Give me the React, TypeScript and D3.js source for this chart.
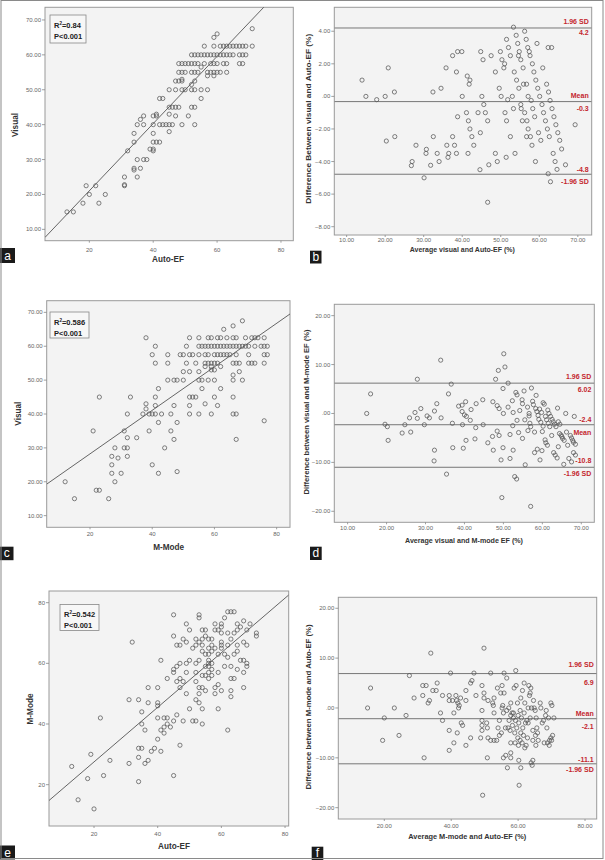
import React, { useEffect } from 'react';
import * as d3 from 'd3';

type Pt = [number, number];

// ---------- Panel a: Visual (y) vs Auto-EF (x), rows of [visual, auto-EF values]
const aRows: [number, number[]][] = [
  [67.5, [71]], [66, [60]], [65, [59]],
  [62.5, [56, 59, 61, 62, 63, 64, 65, 66, 67, 68, 69, 71]],
  [60, [52, 53, 54, 55, 56, 57, 58, 59, 60, 61, 62, 63, 64, 65, 67, 68, 69]],
  [57.5, [48, 49, 50, 51, 52, 53, 54, 56, 58, 59, 60, 62, 63, 67, 68]],
  [56.5, [55]],
  [55, [48, 49, 50, 52, 53, 54, 57, 58, 59, 60, 61, 63]],
  [54, [57, 59]], [53, [49]],
  [52.5, [47, 48, 49, 53]], [51.5, [52]],
  [50, [45, 47, 49, 50, 52, 53, 55, 57]],
  [47.5, [42, 43, 55]],
  [45, [45, 46, 47, 48, 52, 53]],
  [43, [41, 45]],
  [42.5, [37, 40, 41, 47, 51]], [41.5, [36]],
  [40, [35, 37, 40, 42, 43, 44, 45, 46, 49, 53]],
  [38, [45]], [37.5, [34, 40]],
  [35, [34, 40, 41, 42]],
  [33, [39, 40]], [32.5, [32, 40]],
  [30, [35, 37, 38]],
  [27.5, [34, 36]], [27, [34]],
  [25, [31, 35]],
  [22.8, [31]], [22.5, [19, 22, 31]],
  [20, [20, 25]], [17.5, [18, 23]], [15, [13, 15]],
];
const aFit = { slope: 0.963, intercept: 1.8 };

// ---------- Panel b: Bland-Altman visual vs Auto-EF
const bPoints: Pt[] = [
  [14.0, 1.0], [15.0, 0.0], [17.8, -0.2], [20.0, 0], [20.8, 1.75], [22.4, 0.27], [20.3, -2.74], [22.5, -2.47],
  [28.0, -3.0], [27.0, -4.0], [26.8, -4.25], [30.7, -3.25], [30.6, -3.5], [30.1, -5.0], [31.8, -4.23], [32.4, 0.27],
  [32.5, -2.47], [33.5, -3.5], [34.0, -4.0], [34.5, 0.5], [35.8, 1.75], [36.0, -3.0], [36.5, -3.5], [36.3, -3.74],
  [37.5, -2.47], [37.5, 2.5], [38.0, -3.0], [38.5, -3.5], [38.8, 2.75], [39.9, 2.75], [38.5, 1.5], [38.8, -1.25],
  [40.0, 0], [41.3, 1.25], [41.8, 0.75], [42.0, 1.0], [41.5, -3.5], [41.1, -1.0], [41.6, -1.5], [42.0, -2.0],
  [42.5, -2.47], [43.0, -3.0], [44.1, -1.0], [44.8, 2.75], [45.4, 2.25], [45.1, 0], [45.6, -0.5], [46.0, -1.0],
  [46.6, -1.5], [44.7, -2.23], [44.6, -4.5], [46.9, -4.2], [46.6, -6.5], [47.5, 2.5], [48.6, 1.5], [48.6, -3.5],
  [49.1, -4.0], [49.6, 0.5], [49.9, 2.75], [50.1, 0], [50.3, 2.25], [50.8, 1.75], [51.0, 2.0], [51.1, -1.0],
  [51.5, -1.5], [51.4, -3.74], [51.5, 3.5], [51.8, -0.2], [52.0, 3.0], [52.5, 2.5], [52.5, -2.47], [53.0, 0],
  [53.3, 4.25], [53.3, -0.75], [53.5, 1.5], [53.7, -3.5], [54.0, 3.75], [54.1, 1.0], [54.4, 3.25], [54.7, 0.5],
  [54.8, 2.75], [54.6, 2.5], [55.2, 2.25], [55.2, -0.5], [55.3, -0.75], [55.6, -1.5], [55.8, 1.75], [55.9, 0.75],
  [56.2, -1.0], [56.2, 4.0], [56.6, 3.5], [56.7, 0.75], [56.8, -1.5], [56.7, -2.47], [57.0, 3.0], [57.1, 0],
  [57.1, -2.0], [57.4, 2.75], [57.6, 2.5], [57.7, -2.47], [57.9, -0.25], [58.1, -3.0], [58.2, 2.0], [58.3, -0.75],
  [58.6, 1.5], [58.8, -1.25], [59.1, 1.0], [59.0, -4.0], [59.4, 3.25], [59.6, 0.5], [59.8, -2.23], [60.1, 0],
  [60.4, -2.7], [60.7, -0.5], [60.9, 1.75], [61.1, -1.0], [61.6, -1.5], [61.9, 0.75], [62.1, -2.0], [62.3, 3.0],
  [62.4, 0.27], [62.6, -2.47], [62.3, -4.75], [62.8, -0.25], [62.9, -5.24], [63.2, 3.0], [63.3, -0.75], [63.6, -3.5],
  [63.8, -1.25], [64.1, -4.0], [64.3, -1.74], [64.6, -4.48], [64.8, -2.23], [65.3, -2.7], [65.8, -3.23], [66.8, -4.2],
  [69.3, -1.74],
];
const bLimits = [4.2, -0.32, -4.78];
const bLabels: [string, string][] = [['1.96 SD', '4.2'], ['Mean', '-0.3'], ['-4.8', '-1.96 SD']];

// ---------- Panel c: Visual (y) vs M-Mode (x), rows of [visual, M-mode values]
const cRows: [number, number[]][] = [
  [67.5, [69]], [66, [66]], [65, [63]],
  [62.5, [38, 52, 55, 58, 59, 61, 62, 64, 66, 67, 70, 72, 73, 74, 76]],
  [60, [41, 51, 55, 56, 57, 58, 59, 60, 61, 62, 63, 64, 65, 66, 67, 68, 69, 70, 71, 73, 75, 76, 77]],
  [57.5, [40, 45, 49, 50, 52, 53, 55, 57, 58, 60, 61, 62, 63, 64, 65, 67, 71, 76, 77]],
  [55, [41, 45, 51, 54, 57, 58, 59, 60, 61, 66, 67, 68, 71, 72, 73, 76]],
  [54, [57, 59, 62]], [53, [59, 60]],
  [52.5, [50, 52, 55, 68]], [51.5, [66]],
  [50, [45, 47, 48, 50, 55, 56, 58, 60, 66, 69]],
  [47.5, [42, 56, 62]],
  [45, [23, 33, 41, 52, 53, 54, 60, 66]],
  [43, [38, 57]], [42.5, [41, 47, 52, 61]], [41.5, [38]],
  [40, [32, 37, 39, 40, 41, 43, 46, 52, 55, 59, 66, 67]],
  [38, [76]], [37.5, [42, 48]],
  [35, [21, 31, 39, 46]], [33, [32, 35]], [32.5, [47, 67]],
  [30, [28, 31, 32, 44]], [27.5, [27, 32]], [27, [29]],
  [25, [27, 40]], [23, [48]], [22.5, [27, 30, 42]],
  [20, [12, 28]], [17.5, [22, 23]], [15, [15, 26]],
];
const cFit = { slope: 0.642, intercept: 15.4 };

// ---------- Panel d: Bland-Altman visual vs M-mode
const dPoints: Pt[] = [
  [14.9, 0], [15.9, 4.0], [19.6, -2.2], [20.2, -2.7], [20.4, -5.5], [24.0, -4.0], [24.7, -2.3], [26.2, -3.8],
  [25.9, -0.9], [27.3, 0.2], [27.9, 7.0], [27.9, -1.0], [28.8, 1.0], [29.7, -2.3], [30.4, -0.5], [31.0, -0.9],
  [32.3, 0.5], [32.3, -7.5], [32.2, -9.7], [32.9, 2.0], [33.9, 10.9], [34.0, -0.9], [35.4, -12.4], [35.9, 4.0],
  [36.9, -2.0], [37.0, -7.0], [36.6, 6.0], [38.5, 1.5], [39.4, 1.7], [39.5, -2.3], [39.7, -7.1], [39.4, 0.4],
  [40.0, -0.3], [40.5, -0.6], [40.3, 2.4], [41.5, -1.4], [41.7, 0.8], [40.4, -5.5], [43.0, 2.0], [42.9, -2.9],
  [42.7, -5.2], [44.7, 2.8], [44.8, -2.3], [46.0, -6.0], [47.3, 2.4], [47.2, -4.7], [47.4, -7.5], [48.0, 7.0],
  [48.4, 1.6], [48.7, 8.8], [48.9, 1.0], [48.4, -3.6], [48.9, -4.5], [49.4, -9.5], [50.0, 0], [49.9, 5.1],
  [50.1, 12.2], [50.4, 9.5], [49.9, -7.0], [49.6, -17.2], [51.2, 1.3], [51.2, 6.2], [51.7, -4.3], [51.7, -9.2],
  [52.3, 2.6], [52.5, 0.2], [52.4, -2.5], [52.5, -7.5], [52.9, -12.9], [53.4, -13.4], [53.2, 4.3], [53.5, 3.8],
  [53.5, -1.4], [53.9, -3.9], [54.2, 0.6], [54.8, 2.8], [54.9, 2.0], [54.9, -5.1], [55.3, 4.6], [55.6, -10.5],
  [55.5, -1.3], [56.2, 1.3], [56.3, -3.5], [56.6, 0], [56.8, -2.0], [56.6, -0.5], [57.0, -2.7], [57.2, 5.2],
  [57.0, -19.0], [57.5, 2.5], [57.7, 1.8], [58.0, -8.0], [58.0, -3.8], [58.3, 1.0], [58.4, 3.7], [58.6, 0.4],
  [58.7, -7.3], [58.9, -0.4], [59.1, -1.2], [59.3, 0.9], [59.4, -9.5], [59.6, -1.8], [59.8, 0.2], [59.9, -7.6],
  [60.0, -3.7], [60.2, 2.2], [60.2, -2.6], [60.5, 1.9], [60.7, -5.4], [60.8, -0.6], [60.9, -6.0], [61.1, -1.3],
  [61.3, -6.5], [61.4, 0.7], [61.5, -2.0], [61.7, 0], [61.9, -2.7], [62.1, -0.6], [62.4, -4.5], [62.5, -1.2],
  [62.8, -1.7], [62.9, -8.0], [63.1, -2.2], [63.3, -8.5], [63.5, -2.7], [63.8, -9.1], [63.9, 1.1], [64.1, -6.8],
  [64.1, -1.7], [64.4, -4.1], [64.5, -2.2], [64.8, -4.4], [65.0, -4.7], [65.2, -5.1], [65.5, -10.4], [65.6, -5.5],
  [66.0, 0], [66.2, -3.8], [66.5, -6.5], [66.8, -9.2], [67.2, -4.5], [67.5, -5.0], [67.8, -5.5], [68.0, -5.9],
  [68.2, -0.6], [68.5, -6.3], [67.5, -9.9], [68.0, -8.0], [68.5, -8.5],
];
const dLimits = [6.2, -2.3, -11.0];
const dLabels: [string, string][] = [['1.96 SD', '6.02'], ['-2.4', 'Mean'], ['-10.8', '-1.96 SD']];

// ---------- Panel e: M-Mode (y) vs Auto-EF (x), rows of [auto-EF, M-mode values]
const eRows: [number, number[]][] = [
  [13, [26]], [15, [15]], [18, [22]], [19, [30]], [20, [12]], [22, [42]], [23, [23]], [25, [28]],
  [31, [27, 48]], [32, [67]], [34, [48, 32, 29, 21]], [35, [32, 44, 40]], [36, [38, 27]], [37, [28, 47, 52]],
  [38, [31]], [39, [32]], [40, [47, 46, 42, 35, 52]], [41, [31, 61, 38]], [42, [42, 39, 37]], [43, [42, 55, 40]],
  [44, [39]], [45, [23, 41, 57, 58, 69, 76]], [46, [43, 59, 66, 54]], [47, [33, 66, 60, 55, 52]], [48, [41, 54, 68]],
  [49, [50, 60, 57, 73, 67]], [50, [45, 71, 61]], [51, [41, 65]], [52, [48, 41, 57, 60, 68, 66, 54]],
  [53, [50, 47, 76, 75, 67, 61, 52]], [54, [40, 45, 71, 68, 66, 64, 56, 52]], [55, [71, 69, 63, 59, 56, 51]],
  [56, [68, 63, 61, 60, 59, 57, 55, 65]], [57, [66, 64, 60, 58, 56, 68]], [58, [50, 73, 71, 65, 52]],
  [59, [45, 71, 53, 63, 57]], [60, [73, 72, 70, 67, 66, 65, 51]], [61, [75, 63, 59]], [62, [77, 70, 62, 38, 66]],
  [63, [77, 59, 55, 51, 49, 68]], [64, [77, 55, 63, 70]], [65, [71, 73, 66, 64, 58]], [66, [72, 61]],
  [67, [52, 57, 61, 67, 74]], [68, [60, 59, 66, 71]], [69, [73]], [71, [70, 69]],
];
const eFit = { slope: 0.9, intercept: 9.5 };

// ---------- Panel f: Bland-Altman M-mode vs Auto-EF
const fPoints: Pt[] = [
  [15.0, 0], [15.9, 4.0], [20.0, -2.0], [19.5, -6.5], [23.0, 0], [24.4, -5.5], [26.5, -1.5], [27.5, 6.5],
  [28.9, 2.0], [31.5, 2.5], [31.5, 4.5], [32.5, 4.5], [31.9, -10.0], [33.1, 1.0], [33.5, 1.5], [33.9, 11.0],
  [34.5, 3.5], [35.5, 3.5], [35.8, 5.0], [36.8, -1.0], [37.4, -2.5], [37.4, 2.5], [39.4, 1.5], [39.4, 2.5],
  [39.4, -4.5], [39.4, -8.5], [39.8, 7.0], [40.4, 1.5], [40.8, -1.0], [40.8, -7.0], [41.4, 2.5], [41.6, 1.5],
  [41.8, -5.0], [42.0, 1.0], [42.2, 0], [42.4, 0.5], [42.8, 2.0], [43.0, -3.0], [43.4, -3.5], [44.4, 3.5],
  [44.4, 1.5], [44.4, -7.5], [45.8, 5.0], [45.8, -6.0], [46.2, 5.5], [46.8, 7.0], [47.4, 2.5], [48.8, -6.0],
  [49.2, 4.5], [49.2, -0.5], [49.2, -2.5], [49.2, -3.5], [49.2, -4.5], [49.8, 12.0], [49.8, 3.0], [49.8, 2.0],
  [49.4, -17.5], [50.6, -3.0], [50.8, -4.0], [51.0, 1.5], [51.0, -6.0], [50.8, -10.0], [51.8, 7.0], [51.8, -6.5],
  [52.4, 1.0], [52.6, 0.5], [52.8, 2.0], [52.8, -1.0], [52.8, -6.5], [53.6, -6.5], [53.8, 4.0], [54.0, -4.0],
  [54.4, -2.5], [54.4, -5.5], [54.8, 3.0], [55.0, -5.0], [55.2, 4.5], [55.2, 0], [55.4, 0.5], [55.6, -1.0],
  [55.6, -10.0], [55.8, 3.0], [55.8, 7.0], [56.2, -4.0], [56.3, -9.5], [56.6, -0.5], [56.6, 6.0], [56.8, -12.0],
  [57.0, -4.0], [57.2, 0], [57.3, -2.5], [57.6, -4.5], [57.8, -1.5], [57.8, 1.0], [57.8, -10.0], [57.8, -7.0],
  [57.8, -9.0], [58.2, -1.0], [58.3, -3.5], [58.6, -2.0], [58.6, -1.0], [58.8, 4.0], [59.0, -5.0], [59.1, -7.0],
  [59.2, -2.5], [59.3, 7.5], [59.4, 4.5], [59.6, -4.0], [59.8, 1.0], [59.9, -6.0], [60.0, -1.5], [60.1, -7.5],
  [60.2, -3.0], [60.2, -10.5], [60.3, -15.5], [60.6, -0.5], [60.6, -6.5], [60.8, 2.0], [60.8, -5.0], [60.8, -12.0],
  [61.0, -2.0], [61.2, -7.0], [61.3, 3.5], [61.4, -4.0], [61.6, -5.5], [61.8, -1.0], [61.8, 5.0], [62.0, 1.0],
  [62.0, -8.0], [62.2, -3.0], [62.4, -7.5], [62.6, -2.5], [62.8, -6.0], [63.0, 0], [63.0, -3.0], [63.2, 4.5],
  [63.4, 2.5], [63.6, 3.0], [63.6, -2.0], [63.8, 4.0], [63.9, -11.0], [64.0, 0], [64.2, -11.5], [64.4, -10.5],
  [64.4, -4.5], [64.4, -6.5], [64.6, 1.5], [64.8, 0], [65.1, -0.5], [65.2, -5.5], [65.3, -7.5], [65.4, -2.0],
  [65.6, -4.0], [65.8, -5.0], [66.0, -6.5], [66.6, 1.0], [66.8, 0], [67.2, -3.0], [67.6, -2.5], [67.8, -7.0],
  [68.2, -1.5], [68.4, -0.5], [68.6, -4.0], [68.8, -7.0], [69.1, -2.0], [69.3, -7.5], [69.4, -6.5], [69.8, 1.0],
  [69.8, -6.0], [70.0, -6.5], [70.1, 0.5], [70.3, -5.5], [70.7, -2.0],
];
const fLimits = [6.9, -2.15, -11.2];
const fLabels: [string, string][] = [['1.96 SD', '6.9'], ['Mean', '-2.1'], ['-11.1', '-1.96 SD']];

// tick values
const ticks10to70 = [10, 20, 30, 40, 50, 60, 70];
const ticks20to80 = [20, 40, 60, 80];
const ticksB_Y = [4, 2, 0, -2, -4, -6, -8];
const ticksDiff20 = [20, 10, 0, -10, -20];
const ticksE_Y = [20, 40, 60, 80];

const rowsToPointsYX = (rows: [number, number[]][]): Pt[] => rows.flatMap(([yv, xs]) => xs.map((xv) => [xv, yv] as Pt));
const rowsToPointsXY = (rows: [number, number[]][]): Pt[] => rows.flatMap(([xv, ys]) => ys.map((yv) => [xv, yv] as Pt));

const f2 = (v: number) => d3.format('.2f')(v).replace(/^(-?)0\./, '$1.');
const fInt = (v: number) => d3.format('d')(v);

const FONT = '"Liberation Sans", Arial, sans-serif';
const RED = '#c4262e';

type Frame = { x0: number; x1: number; y0: number; y1: number };
type PanelCfg = {
  id: string;
  frame: Frame;
  xDomain: [number, number];
  yDomain: [number, number];
  xTicks: number[];
  yTicks: number[];
  xFmt: (v: number) => string;
  yFmt: (v: number) => string;
  xLabelDy: number;
  points: Pt[];
  fit?: { slope: number; intercept: number };
  stats?: { lines: [string, string]; box: { x: number; y: number; w: number; h: number } };
  limits?: number[];
  limitLabels?: [string, string][];
  limitOffsets?: [number, number][];
  xTitle: { text: string; x: number; y: number; len?: number; size: number };
  yTitle: { text: string; x: number; y: number; len?: number; size: number };
  letter: { ch: string; x: number; y: number; w: number; h: number };
};

function Panel({ cfg }: { cfg: PanelCfg }) {
  const fr = cfg.frame;
  const x = d3.scaleLinear().domain(cfg.xDomain).range([fr.x0, fr.x1]);
  const y = d3.scaleLinear().domain(cfg.yDomain).range([fr.y1, fr.y0]);
  const clipId = `clip-${cfg.id}`;
  const tickFs = 6;
  return (
    <g>
      <defs>
        <clipPath id={clipId}>
          <rect x={fr.x0} y={fr.y0} width={fr.x1 - fr.x0} height={fr.y1 - fr.y0} />
        </clipPath>
      </defs>
      <rect x={fr.x0} y={fr.y0} width={fr.x1 - fr.x0} height={fr.y1 - fr.y0} fill="#f3f3f3" stroke="#9a9a9a" strokeWidth={1} />
      {cfg.yTicks.map((t) => (
        <g key={'y' + t}>
          <line x1={fr.x0 - 3} x2={fr.x0} y1={y(t)} y2={y(t)} stroke="#888" strokeWidth={0.8} />
          <text x={fr.x0 - 4} y={y(t) + 2} fontSize={tickFs} fill="#666" textAnchor="end" fontFamily={FONT}>
            {cfg.yFmt(t)}
          </text>
        </g>
      ))}
      {cfg.xTicks.map((t) => (
        <g key={'x' + t}>
          <line x1={x(t)} x2={x(t)} y1={fr.y1} y2={fr.y1 + 2} stroke="#888" strokeWidth={0.8} />
          <text x={x(t)} y={fr.y1 + cfg.xLabelDy + 2} fontSize={tickFs} fill="#666" textAnchor="middle" fontFamily={FONT}>
            {cfg.xFmt(t)}
          </text>
        </g>
      ))}
      <g clipPath={`url(#${clipId})`}>
        {cfg.fit && (
          <line
            x1={x(cfg.xDomain[0])}
            y1={y(cfg.fit.slope * cfg.xDomain[0] + cfg.fit.intercept)}
            x2={x(cfg.xDomain[1])}
            y2={y(cfg.fit.slope * cfg.xDomain[1] + cfg.fit.intercept)}
            stroke="#555"
            strokeWidth={0.9}
          />
        )}
        {cfg.limits &&
          cfg.limits.map((v, i) => (
            <line key={'l' + i} x1={fr.x0} x2={fr.x1} y1={y(v)} y2={y(v)} stroke="#777" strokeWidth={1} />
          ))}
        {cfg.points.map((p, i) => (
          <circle key={i} cx={x(p[0])} cy={y(p[1])} r={2.1} fill="none" stroke="#555" strokeWidth={0.75} />
        ))}
      </g>
      {cfg.limits &&
        cfg.limitLabels &&
        cfg.limits.map((v, i) => {
          const off = cfg.limitOffsets ? cfg.limitOffsets[i] : [6, 7];
          return (
            <g key={'ll' + i}>
              <text x={fr.x1 - 3} y={y(v) - off[0] + 2.5} fontSize={7} fontWeight="bold" fill={RED} textAnchor="end" fontFamily={FONT}>
                {cfg.limitLabels![i][0]}
              </text>
              <text x={fr.x1 - 3} y={y(v) + off[1] + 2.5} fontSize={7} fontWeight="bold" fill={RED} textAnchor="end" fontFamily={FONT}>
                {cfg.limitLabels![i][1]}
              </text>
            </g>
          );
        })}
      {cfg.stats && (
        <g>
          <rect
            x={cfg.stats.box.x}
            y={cfg.stats.box.y}
            width={cfg.stats.box.w}
            height={cfg.stats.box.h}
            fill="#f7f7f7"
            stroke="#888"
            strokeWidth={0.8}
          />
          <text x={cfg.stats.box.x + 4} y={cfg.stats.box.y + 10 + 2.6} fontSize={7.5} fontWeight="bold" fill="#222" fontFamily={FONT}>
            R
            <tspan fontSize={4.5} dy={-3}>
              2
            </tspan>
            <tspan dy={3}>{cfg.stats.lines[0]}</tspan>
          </text>
          <text x={cfg.stats.box.x + 4} y={cfg.stats.box.y + 21 + 2.6} fontSize={7.5} fontWeight="bold" fill="#222" fontFamily={FONT}>
            {cfg.stats.lines[1]}
          </text>
        </g>
      )}
      <text
        x={cfg.xTitle.x}
        y={cfg.xTitle.y + cfg.xTitle.size * 0.35}
        fontSize={cfg.xTitle.size}
        fontWeight="bold"
        fill="#333"
        textAnchor="middle"
        fontFamily={FONT}
        {...(cfg.xTitle.len ? { textLength: cfg.xTitle.len, lengthAdjust: 'spacingAndGlyphs' } : {})}
      >
        {cfg.xTitle.text}
      </text>
      <text
        transform={`translate(${cfg.yTitle.x + cfg.yTitle.size * 0.35},${cfg.yTitle.y}) rotate(-90)`}
        fontSize={cfg.yTitle.size}
        fontWeight="bold"
        fill="#333"
        textAnchor="middle"
        fontFamily={FONT}
        {...(cfg.yTitle.len ? { textLength: cfg.yTitle.len, lengthAdjust: 'spacingAndGlyphs' } : {})}
      >
        {cfg.yTitle.text}
      </text>
      <rect x={cfg.letter.x} y={cfg.letter.y} width={cfg.letter.w} height={cfg.letter.h} fill="#1a1a1a" />
      <text
        x={cfg.letter.x + cfg.letter.w / 2}
        y={cfg.letter.y + cfg.letter.h / 2 + 4}
        fontSize={12}
        fill="#fff"
        textAnchor="middle"
        fontFamily={FONT}
      >
        {cfg.letter.ch}
      </text>
    </g>
  );
}

export default function App() {
  useEffect(() => {
    document.body.style.margin = '0';
  }, []);

  const panels: PanelCfg[] = [
    {
      id: 'a',
      frame: { x0: 45, x1: 293.3, y0: 7.3, y1: 240.7 },
      xDomain: [6.12, 83.86],
      yDomain: [6.75, 73.63],
      xTicks: ticks20to80,
      yTicks: ticks10to70,
      xFmt: fInt,
      yFmt: f2,
      xLabelDy: 9,
      points: rowsToPointsYX(aRows),
      fit: aFit,
      stats: { lines: ['=0.84', 'P<0.001'], box: { x: 50, y: 15, w: 36, h: 28 } },
      xTitle: { text: 'Auto-EF', x: 168, y: 259, size: 8.2 },
      yTitle: { text: 'Visual', x: 15.5, y: 125, size: 8.2 },
      letter: { ch: 'a', x: 0, y: 248, w: 15, h: 15 },
    },
    {
      id: 'b',
      frame: { x0: 334.3, x1: 591.7, y0: 7.3, y1: 235 },
      xDomain: [6.8, 73.6],
      yDomain: [-8.51, 5.47],
      xTicks: ticks10to70,
      yTicks: ticksB_Y,
      xFmt: f2,
      yFmt: f2,
      xLabelDy: 4.5,
      points: bPoints,
      limits: bLimits,
      limitLabels: bLabels,
      limitOffsets: [[6, 5], [6.3, 6.7], [5, 7]],
      xTitle: { text: 'Average visual and Auto-EF (%)', x: 462.3, y: 249, len: 105, size: 7.5 },
      yTitle: { text: 'Difference Between visual and Auto-EF (%)', x: 308.3, y: 118.7, len: 170, size: 7.5 },
      letter: { ch: 'b', x: 310, y: 250.7, w: 11.5, h: 12.8 },
    },
    {
      id: 'c',
      frame: { x0: 46.7, x1: 290, y0: 300.7, y1: 527.3 },
      xDomain: [6.07, 84.3],
      yDomain: [6.56, 73.44],
      xTicks: ticks20to80,
      yTicks: ticks10to70,
      xFmt: fInt,
      yFmt: f2,
      xLabelDy: 6.7,
      points: rowsToPointsYX(cRows),
      fit: cFit,
      stats: { lines: ['=0.586', 'P<0.001'], box: { x: 50, y: 312, w: 39, h: 26 } },
      xTitle: { text: 'M-Mode', x: 168.7, y: 546.7, size: 8.2 },
      yTitle: { text: 'Visual', x: 18.3, y: 413.7, size: 8.2 },
      letter: { ch: 'c', x: 0, y: 546.7, w: 13.5, h: 13.5 },
    },
    {
      id: 'd',
      frame: { x0: 334.3, x1: 594.3, y0: 304.3, y1: 522.3 },
      xDomain: [6.58, 73.34],
      yDomain: [-22.25, 22.32],
      xTicks: ticks10to70,
      yTicks: ticksDiff20,
      xFmt: f2,
      yFmt: f2,
      xLabelDy: 6,
      points: dPoints,
      limits: dLimits,
      limitLabels: dLabels,
      limitOffsets: [[6.3, 6], [5.4, 7.6], [6.6, 6.7]],
      xTitle: { text: 'Average visual and M-mode EF (%)', x: 464, y: 540, len: 118, size: 7.5 },
      yTitle: { text: 'Difference between visual and M-mode EF (%)', x: 306, y: 412, len: 165, size: 7.5 },
      letter: { ch: 'd', x: 310, y: 546.7, w: 11.7, h: 13.3 },
    },
    {
      id: 'e',
      frame: { x0: 49, x1: 288.7, y0: 591, y1: 826 },
      xDomain: [5.86, 81.15],
      yDomain: [6.37, 83.85],
      xTicks: ticks20to80,
      yTicks: ticksE_Y,
      xFmt: fInt,
      yFmt: fInt,
      xLabelDy: 8.3,
      points: rowsToPointsXY(eRows),
      fit: eFit,
      stats: { lines: ['=0.542', 'P<0.001'], box: { x: 60, y: 604.5, w: 39, h: 26 } },
      xTitle: { text: 'Auto-EF', x: 174, y: 846, size: 8.2 },
      yTitle: { text: 'M-Mode', x: 30, y: 709, size: 8.2 },
      letter: { ch: 'e', x: 0, y: 845.5, w: 15, h: 14 },
    },
    {
      id: 'f',
      frame: { x0: 338.3, x1: 596.7, y0: 597.3, y1: 819 },
      xDomain: [6.25, 83.49],
      yDomain: [-22.27, 22.2],
      xTicks: ticks20to80,
      yTicks: ticksDiff20,
      xFmt: f2,
      yFmt: f2,
      xLabelDy: 6.7,
      points: fPoints,
      limits: fLimits,
      limitLabels: fLabels,
      limitOffsets: [[9, 9], [5, 7.6], [4, 6]],
      xTitle: { text: 'Average M-mode and Auto-EF (%)', x: 467.3, y: 836.7, len: 118, size: 7.5 },
      yTitle: { text: 'Difference between M-mode and Auto-EF (%)', x: 308.3, y: 707, len: 165, size: 7.5 },
      letter: { ch: 'f', x: 311.7, y: 846.7, w: 11.6, h: 13.3 },
    },
  ];

  return (
    <div style={{ position: 'fixed', left: 0, top: 0 }}>
      <svg width={605} height={860} style={{ display: 'block', background: '#fff' }} fontFamily={FONT}>
        <rect x={0} y={0} width={605} height={860} fill="#fff" />
        {panels.map((p) => (
          <Panel key={p.id} cfg={p} />
        ))}
        <rect x={1} y={0.5} width={602} height={858} fill="none" stroke="#8a8a8a" strokeWidth={1} />
      </svg>
    </div>
  );
}
